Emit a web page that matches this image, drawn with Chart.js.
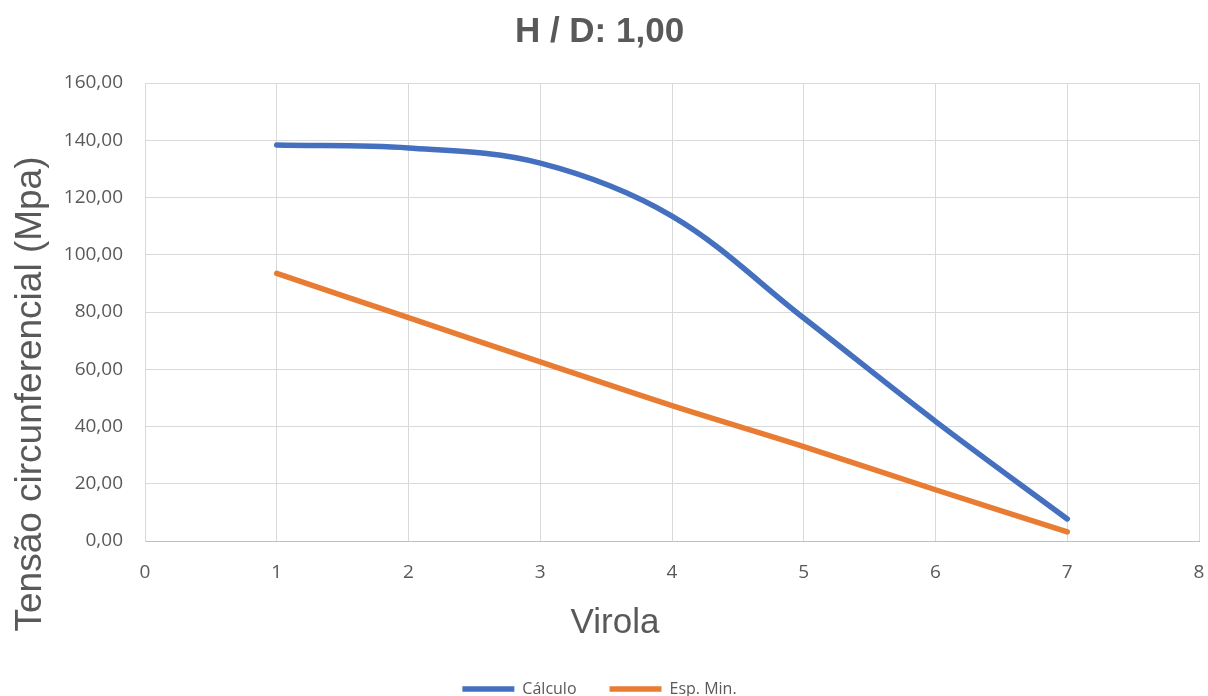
<!DOCTYPE html>
<html lang="pt">
<head>
    <meta charset="UTF-8">
    <title>H / D: 1,00</title>
    <script src="https://cdn.jsdelivr.net/npm/chart.js"></script>
    <style>
        html, body { margin: 0; padding: 0; background: #fff; }
        .wrap { width: 1208px; height: 696px; }
    </style>
</head>
<body>
    <div class="wrap"><canvas id="chart"></canvas></div>
    <script>
        // values
        const virolas = [1, 2, 3, 4, 5, 6, 7];
        const calculo = [138.3, 137.3, 132.0, 113.5, 77.9, 41.8, 7.7];
        const espMin = [93.5, 78.0, 62.6, 47.3, 33.0, 17.9, 3.2];

        const grey = '#595959';
        const gridColor = '#d9d9d9';

        const toPoints = (xs, ys) => xs.map((x, i) => ({ x: x, y: ys[i] }));
        const fmt = v => v.toFixed(2).replace('.', ',');

        // axis titles sit where Excel put them, not centred on the plot
        const axisTitles = {
            id: 'axisTitles',
            afterDraw(chart) {
                const c = chart.ctx;
                c.save();
                c.fillStyle = grey;
                c.textAlign = 'center';
                c.textBaseline = 'middle';
                c.font = '35px "Liberation Sans"';
                c.fillText('Virola', 615, 623);
                c.translate(31, 394);
                c.rotate(-Math.PI / 2);
                c.font = '37px "Liberation Sans"';
                c.fillText('Tensão circunferencial (Mpa)', 0, 0);
                c.restore();
            },
        };

        const ctx = document.getElementById('chart').getContext('2d');
        new Chart(ctx, {
            type: 'line',
            data: {
                datasets: [{
                    label: 'Cálculo',
                    data: toPoints(virolas, calculo),
                    borderColor: '#4470bf',
                    backgroundColor: '#4470bf',
                    borderWidth: 5.5,
                    borderCapStyle: 'round',
                    pointRadius: 0,
                    tension: 0.35,
                }, {
                    label: 'Esp. Min.',
                    data: toPoints(virolas, espMin),
                    borderColor: '#e97c33',
                    backgroundColor: '#e97c33',
                    borderWidth: 5.5,
                    borderCapStyle: 'round',
                    pointRadius: 0,
                    tension: 0.35,
                }],
            },
            plugins: [axisTitles],
            options: {
                responsive: true,
                maintainAspectRatio: false,
                animation: false,
                layout: { padding: { left: 0, right: 9, top: 0, bottom: -11 } },
                plugins: {
                    title: {
                        display: true,
                        text: 'H / D: 1,00',
                        color: grey,
                        font: { family: 'Liberation Sans', size: 35, weight: 'bold' },
                        padding: { top: 11, bottom: 30 },
                    },
                    legend: {
                        position: 'bottom',
                        labels: {
                            usePointStyle: true,
                            pointStyle: 'line',
                            pointStyleWidth: 52,
                            color: grey,
                            padding: 33,
                            font: { family: 'Open Sans', size: 16 },
                        },
                    },
                    tooltip: { enabled: false },
                },
                scales: {
                    x: {
                        type: 'linear',
                        min: 0,
                        max: 8,
                        ticks: {
                            stepSize: 1,
                            padding: 3,
                            color: grey,
                            font: { family: 'Open Sans', size: 19 },
                        },
                        // invisible tick marks give the gap under the axis
                        grid: { color: gridColor, drawTicks: true, tickLength: 17, tickColor: 'rgba(0,0,0,0)' },
                        border: { color: '#bfbfbf' },
                        afterFit: scale => { scale.height = 107; },
                    },
                    y: {
                        min: 0,
                        max: 160,
                        ticks: {
                            stepSize: 20,
                            padding: 22,
                            color: grey,
                            font: { family: 'Open Sans', size: 19 },
                            callback: v => fmt(v),
                        },
                        grid: { color: gridColor, drawTicks: false },
                        border: { color: gridColor },
                        afterFit: scale => { scale.width = 145; },
                    },
                },
            },
        });
    </script>
</body>
</html>
